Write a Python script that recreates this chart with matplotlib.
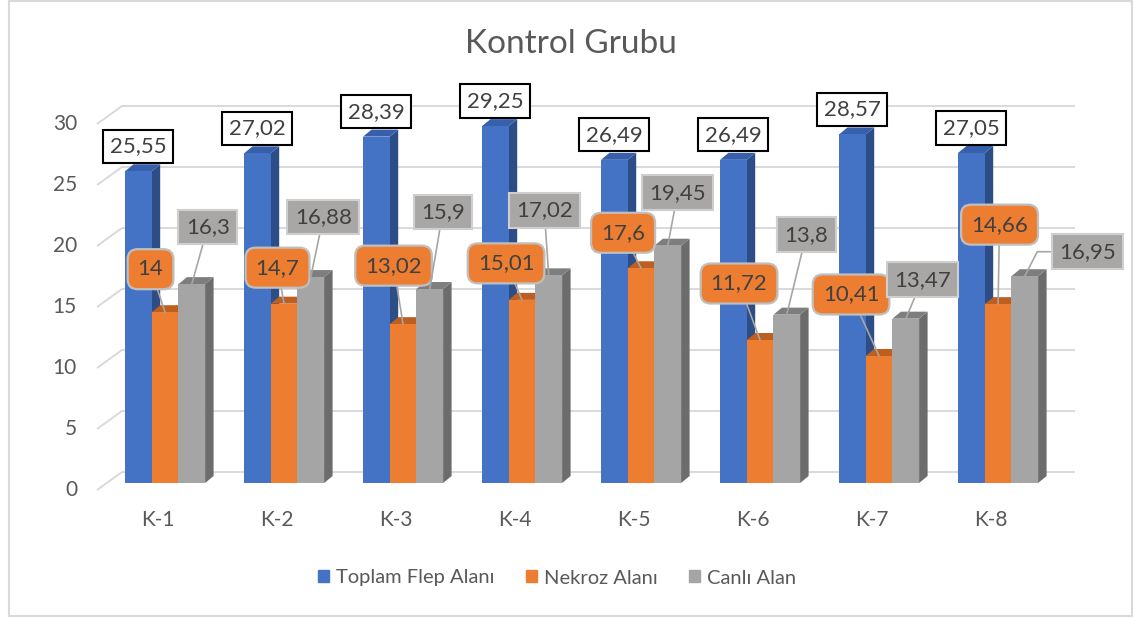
import matplotlib
matplotlib.use('Agg')
import matplotlib.pyplot as plt
from matplotlib.patches import Polygon, Rectangle, Patch

plt.rcParams['font.family'] = ['Lato', 'DejaVu Sans']

# ---------------- data ----------------
categories = ['K-1', 'K-2', 'K-3', 'K-4', 'K-5', 'K-6', 'K-7', 'K-8']
toplam_flep = [25.55, 27.02, 28.39, 29.25, 26.49, 26.49, 28.57, 27.05]
nekroz = [14, 14.7, 13.02, 15.01, 17.6, 11.72, 10.41, 14.66]
canli = [16.3, 16.88, 15.9, 17.02, 19.45, 13.8, 13.47, 16.95]
series_names = ['Toplam Flep Alanı', 'Nekroz Alanı', 'Canlı Alan']
y_ticks = [0, 5, 10, 15, 20, 25, 30]
title = 'Kontrol Grubu'

# ---------------- layout / style ----------------
W, H = 1135, 618
PX_X, PX_Y = 119.0, 12.2          # pixels per category / per value unit
ZERO_PX = 483                     # pixel row of value 0 (front plane)
front_cols = ['#4472C4', '#ED7D31', '#A5A5A5']
side_cols = ['#2C4D86', '#B05B22', '#6C6C6C']
top_cols = ['#3660AC', '#BC5F20', '#7E7E7E']
BAR_PX = 26.7
DEPTH_DX, DEPTH_DY = 8.5, 7.0
TXT = '#595959'
LBL = '#404040'
LABEL_FS = 16
TICK_FS = 15

# label offsets in pixels relative to bar top (dx, dy up)
nek_off = [(-14.5, 43), (-6.5, 36), (-9.5, 58.5), (-16, 36.5),
           (-18, 35.5), (-21, 56.5), (-28, 61.5), (1.5, 79.5)]
can_off = [(16, 57), (12.5, 60), (13, 77), (-4.5, 65),
           (10, 53), (19.5, 80), (16.5, 39), (63, 24.5)]


def dx(px):
    return px / PX_X


def dy(px):
    return px / PX_Y


def fmt(v):
    return f"{v:g}".replace('.', ',')


fig = plt.figure(figsize=(W / 100, H / 100), dpi=100)
left_px = 165 - 0.5 * PX_X
ax = fig.add_axes([left_px / W, (H - ZERO_PX) / H, 8 * PX_X / W, 30 * PX_Y / H])
ax.set_xlim(-0.5, 7.5)
ax.set_ylim(0, 30)
ax.axis('off')

# gridlines (floor diagonal + back wall)
for v in y_ticks:
    ax.plot([dx(97 - 165), dx(122 - 165), dx(1075 - 165)],
            [v - dy(7), v + dy(11), v + dy(11)],
            color='#D9D9D9', lw=1.4, clip_on=False, zorder=0,
            solid_capstyle='butt')
    ax.text(dx(77 - 165), v - dy(7), str(v), ha='right', va='center',
            fontsize=TICK_FS, color=TXT)

for i, c in enumerate(categories):
    ax.text(i + dx(-7), dy(-37.5), c, ha='center', va='center',
            fontsize=TICK_FS, color=TXT)

series = [toplam_flep, nekroz, canli]
ddx, ddy = dx(DEPTH_DX), dy(DEPTH_DY)
w = dx(BAR_PX)
for s, vals in enumerate(series):
    lefts = [i + dx(-40 + BAR_PX * s) for i in range(len(categories))]
    ax.bar(lefts, vals, width=w, align='edge', color=front_cols[s],
           zorder=4 + 3 * s, clip_on=False, linewidth=0)
    for l, v in zip(lefts, vals):
        r = l + w
        ax.add_patch(Polygon([(r, 0), (r + ddx, ddy), (r + ddx, v + ddy), (r, v)],
                             closed=True, fc=side_cols[s], ec='none',
                             zorder=2 + 3 * s, clip_on=False))
        ax.add_patch(Polygon([(l, v), (r, v), (r + ddx, v + ddy), (l + ddx, v + ddy)],
                             closed=True, fc=top_cols[s], ec='none',
                             zorder=3 + 3 * s, clip_on=False))

# data labels
for i, v in enumerate(toplam_flep):
    cx = i + dx(-40 + BAR_PX * 0.5)
    ax.annotate(fmt(v), xy=(cx, v), xytext=(0, 25), textcoords='offset pixels',
                ha='center', va='center', fontsize=LABEL_FS, color=LBL, zorder=20,
                bbox=dict(boxstyle='square,pad=0.3', fc='white', ec='black', lw=1.5),
                annotation_clip=False)

for i, v in enumerate(nekroz):
    cx = i + dx(-40 + BAR_PX * 1.5)
    ax.annotate(fmt(v), xy=(cx, v), xytext=nek_off[i], textcoords='offset pixels',
                ha='center', va='center', fontsize=LABEL_FS, color=LBL, zorder=21,
                bbox=dict(boxstyle='round,pad=0.45,rounding_size=0.45',
                          fc='#ED7D31', ec='#BFBFBF', lw=1.6),
                arrowprops=dict(arrowstyle='-', color='#A6A6A6', lw=1.2,
                                shrinkA=0, shrinkB=0),
                annotation_clip=False)

for i, v in enumerate(canli):
    cx = i + dx(-40 + BAR_PX * 2.5)
    conn = 'angle,angleA=0,angleB=63,rad=0' if i == len(canli) - 1 else 'arc3'
    ax.annotate(fmt(v), xy=(cx, v), xytext=can_off[i], textcoords='offset pixels',
                ha='center', va='center', fontsize=LABEL_FS, color=LBL, zorder=21,
                bbox=dict(boxstyle='square,pad=0.33', fc='#A8A7A6', ec='#CFCFCF', lw=1.5),
                arrowprops=dict(arrowstyle='-', color='#A6A6A6', lw=1.2,
                                shrinkA=0, shrinkB=0, connectionstyle=conn),
                annotation_clip=False)

fig.text(571 / W, 1 - 44 / H, title, ha='center', va='center',
         fontsize=24, color=TXT)

handles = [Patch(color=c, label=n) for c, n in zip(front_cols, series_names)]
fig.legend(handles=handles, loc='center', bbox_to_anchor=(557 / W, 1 - 578 / H),
           ncol=3, frameon=False, fontsize=14.5, handlelength=0.55,
           handleheight=0.55, handletextpad=0.35, columnspacing=1.55,
           labelcolor=TXT)

fig.patches.append(Rectangle((8.5 / W, 2 / H), (1132 - 8.5) / W, (616 - 0.5) / H,
                             transform=fig.transFigure, fill=False,
                             ec='#D9D9D9', lw=1.5))

fig.savefig('out.png', dpi=100)
